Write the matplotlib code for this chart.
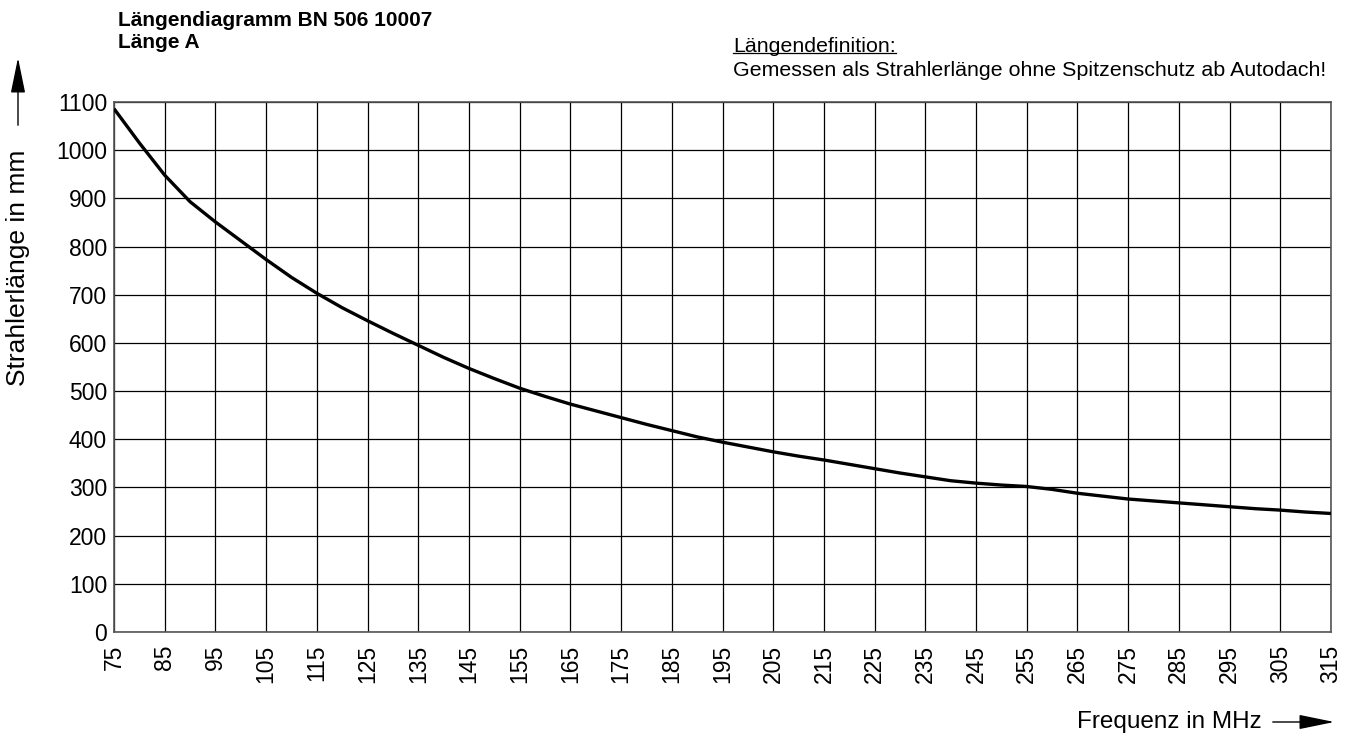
import numpy as np
import matplotlib
matplotlib.use("Agg")
import matplotlib.pyplot as plt
from matplotlib.lines import Line2D
from matplotlib.patches import FancyArrowPatch

plt.rcParams['font.family'] = ['Liberation Sans', 'DejaVu Sans']

# frequency in MHz and radiator length in mm (every 5 MHz)
freq = [75, 80, 85, 90, 95, 100, 105, 110, 115, 120, 125, 130, 135, 140,
        145, 150, 155, 160, 165, 170, 175, 180, 185, 190, 195, 200, 205,
        210, 215, 220, 225, 230, 235, 240, 245, 250, 255, 260, 265, 270,
        275, 280, 285, 290, 295, 300, 305, 310, 315]
length = [1086, 1015, 948, 893, 851, 812, 773, 736, 703, 673, 646, 620, 595,
          570, 547, 526, 506, 489, 473, 459, 445, 431, 418, 405, 394, 384, 374,
          365, 357, 348, 339, 330, 322, 314, 309, 305, 302, 296, 288, 282,
          276, 272, 268, 264, 260, 256, 253, 249, 246]

x_ticks = list(range(75, 316, 10))
y_ticks = list(range(0, 1101, 100))

fig = plt.figure(figsize=(13.53, 7.36), dpi=100)
ax = fig.add_axes([0.0843, 0.1413, 0.8994, 0.7201])

ax.plot(freq, length, color='black', lw=2.4, solid_capstyle='butt',
        solid_joinstyle='round', zorder=3)

ax.set_xlim(75, 315)
ax.set_ylim(0, 1100)
ax.set_xticks(x_ticks)
ax.set_yticks(y_ticks)
ax.set_xticklabels([str(v) for v in x_ticks], rotation=90, fontsize=16.5)
ax.set_yticklabels([str(v) for v in y_ticks], fontsize=16.5)
ax.tick_params(length=0, pad=5)
ax.tick_params(axis='x', pad=9)
ax.grid(True, color='black', lw=0.9)
for s in ax.spines.values():
    s.set_color('#555555')
    s.set_linewidth(1.2)

# headings
fig.text(118 / 1353, 1 - 20 / 736, 'Längendiagramm BN 506 10007', fontsize=15,
         fontweight='bold', va='center', ha='left')
fig.text(118 / 1353, 1 - 43 / 736, 'Länge A', fontsize=15,
         fontweight='bold', va='center', ha='left')

t = fig.text(733 / 1353, 1 - 46 / 736, 'Längendefinition:', fontsize=15.4,
             va='center', ha='left')
fig.text(733 / 1353, 1 - 70 / 736,
         'Gemessen als Strahlerlänge ohne Spitzenschutz ab Autodach!',
         fontsize=15.4, va='center', ha='left')

# axis labels with arrows
fig.text(1262 / 1353, 1 - 722 / 736, 'Frequenz in MHz', fontsize=17.5,
         va='center', ha='right')
fig.add_artist(FancyArrowPatch(
    (1270 / 1353, 1 - 722 / 736), (1337 / 1353, 1 - 722 / 736),
    transform=fig.transFigure, arrowstyle='-|>,head_length=2.2,head_width=0.45',
    color='black', lw=1.0, mutation_scale=10))

fig.text(18 / 1353, 1 - 268 / 736, 'Strahlerlänge in mm', fontsize=19,
         va='center', ha='center', rotation=90)
fig.add_artist(FancyArrowPatch(
    (18 / 1353, 1 - 128 / 736), (18 / 1353, 1 - 55 / 736),
    transform=fig.transFigure, arrowstyle='-|>,head_length=2.2,head_width=0.45',
    color='black', lw=1.0, mutation_scale=10))

# underline for "Längendefinition:"
fig.canvas.draw()
bb = t.get_window_extent().transformed(fig.transFigure.inverted())
fig.add_artist(Line2D([bb.x0, bb.x1], [bb.y0 + 0.003, bb.y0 + 0.003],
                      transform=fig.transFigure, color='black', lw=0.9))

fig.savefig('out.png', dpi=100)
